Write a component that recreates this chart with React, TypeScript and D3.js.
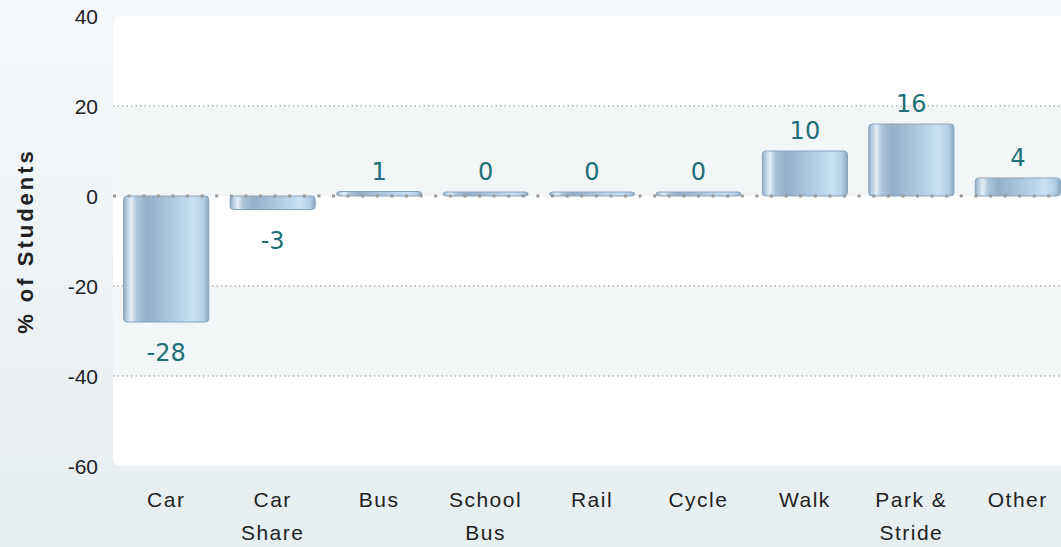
import React from "react";
import * as d3 from "d3";

const categories = ["Car", "Car\nShare", "Bus", "School\nBus", "Rail", "Cycle", "Walk", "Park &\nStride", "Other"];
const values = [-28, -3, 1, 0, 0, 0, 10, 16, 4];
const yTicks = [40, 20, 0, -20, -40, -60];

const width = 1061;
const height = 547;
const left = 113;
const right = 1071;
const top = 16;
const bottom = 466;

export default function App() {
  const x = d3.scaleBand<string>().domain(categories).range([left, right]).paddingInner(0.2).paddingOuter(0.1);
  const y = d3.scaleLinear().domain([-60, 40]).range([bottom, top]);
  const y0 = y(0);

  // alternate shaded bands between ticks
  const bands = d3.pairs(yTicks).map(([a, b], i) => ({ a, b, shaded: i % 2 === 1 }));

  return (
    <svg width={width} height={height} style={{ position: "absolute", left: 0, top: 0, display: "block" }}>
      <defs>
        <linearGradient id="bg" x1="0" y1="0" x2="0" y2="1">
          <stop offset="0%" stopColor="#f5f8fa" />
          <stop offset="100%" stopColor="#e7eef0" />
        </linearGradient>
        <linearGradient id="bar" x1="0" y1="0" x2="1" y2="0">
          <stop offset="0%" stopColor="#8eaac3" />
          <stop offset="4%" stopColor="#b8cfe2" />
          <stop offset="9%" stopColor="#e4eff8" />
          <stop offset="15%" stopColor="#adc6db" />
          <stop offset="27%" stopColor="#93b0c9" />
          <stop offset="55%" stopColor="#abc8df" />
          <stop offset="82%" stopColor="#c8e1f4" />
          <stop offset="93%" stopColor="#b5d0e6" />
          <stop offset="100%" stopColor="#8caac4" />
        </linearGradient>
      </defs>
      <rect x={0} y={0} width={width} height={height} fill="url(#bg)" />
      <rect x={left} y={top} width={right - left + 10} height={bottom - top} rx={8} fill="#ffffff" />
      {bands.map((d) => d.shaded && (
        <rect key={d.a} x={left} y={y(d.a)} width={right - left + 10} height={y(d.b) - y(d.a)} fill="#f3f6f7" />
      ))}
      {yTicks.filter((t) => t !== 0 && t !== 40 && t !== -60).map((t) => (
        <line key={t} x1={left} x2={right + 10} y1={y(t)} y2={y(t)} stroke="#a8acae" strokeWidth={1.3} strokeDasharray="1.3,3.2" />
      ))}
      {yTicks.map((t) => (
        <text key={t} x={98} y={y(t)} dy="0.36em" textAnchor="end" fontFamily="Liberation Sans, Arial, sans-serif" fontSize={21} fill="#222">
          {t}
        </text>
      ))}
      <text transform={`translate(33,${(top + bottom) / 2}) rotate(-90)`} textAnchor="middle" fontFamily="Liberation Sans, Arial, sans-serif" fontWeight="bold" fontSize={22} letterSpacing={3} fill="#222">
        % of Students
      </text>
      {categories.map((c, i) => {
        const v = values[i];
        const bx = x(c)!;
        const h = Math.max(Math.abs(y(v) - y0), 4);
        const by = v < 0 ? y0 : y0 - h;
        return (
          <g key={c}>
            <rect x={bx} y={by} width={x.bandwidth()} height={h} rx={3.5} fill="url(#bar)" stroke="#88a3bb" strokeWidth={1} />
          </g>
        );
      })}
      <line x1={left} x2={right + 10} y1={y0} y2={y0} stroke="#9a9a9a" strokeWidth={3} strokeDasharray="3,11.6" />
      {categories.map((c, i) => {
        const v = values[i];
        const cx = x(c)! + x.bandwidth() / 2;
        const h = Math.max(Math.abs(y(v) - y0), 4);
        const ly = v < 0 ? y0 + h + 39 : y0 - h - 12;
        return (
          <text key={c} x={cx} y={ly} textAnchor="middle" fontFamily="DejaVu Sans, Verdana, sans-serif" fontSize={24} fill="#1f6f79">
            {v}
          </text>
        );
      })}
      {categories.map((c) => {
        const cx = x(c)! + x.bandwidth() / 2;
        return (
          <text key={c} x={cx} y={507} textAnchor="middle" fontFamily="Liberation Sans, Arial, sans-serif" fontSize={21} letterSpacing={1.5} fill="#222">
            {c.split("\n").map((line, j) => (
              <tspan key={j} x={cx} dy={j === 0 ? 0 : 33}>
                {line}
              </tspan>
            ))}
          </text>
        );
      })}
    </svg>
  );
}
